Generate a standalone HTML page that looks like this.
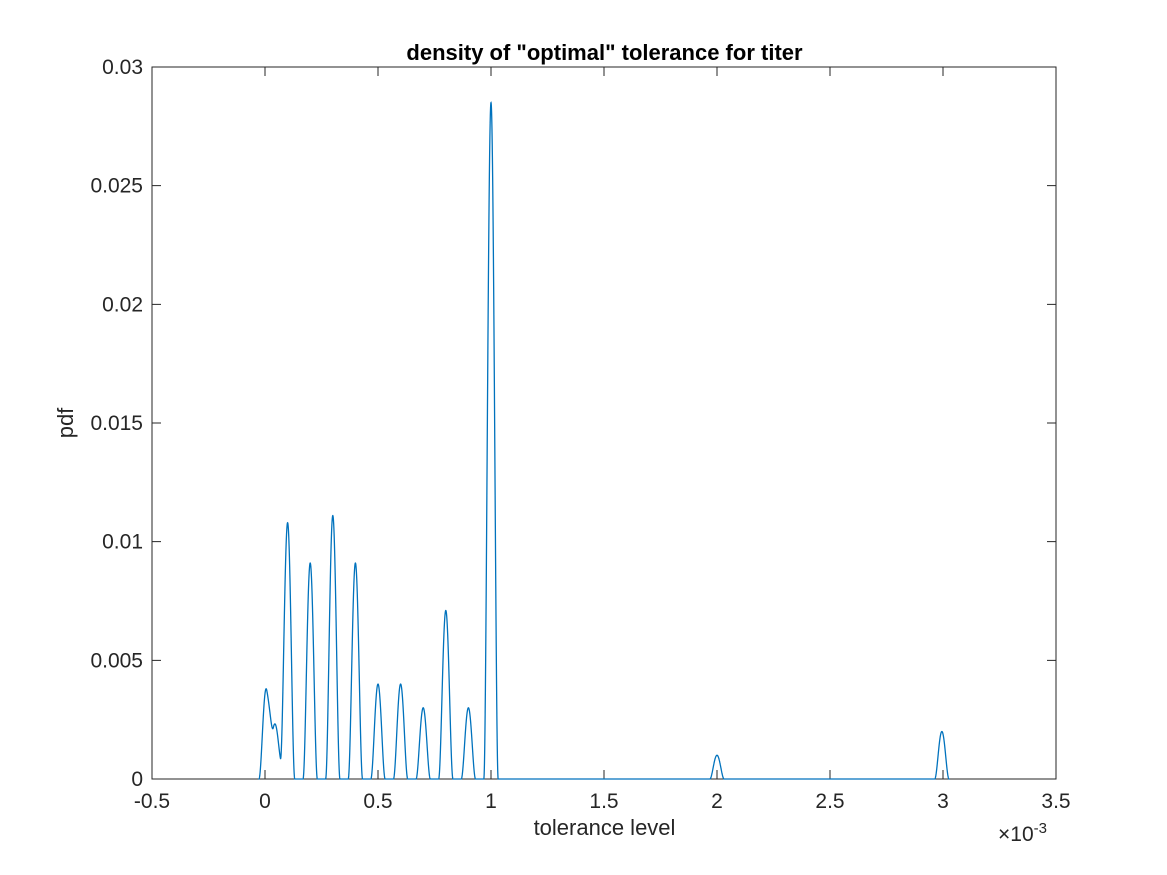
<!DOCTYPE html>
<html><head><meta charset="utf-8"><style>
body{margin:0;background:#fff}
svg{display:block;font-family:"Liberation Sans",Arial,sans-serif}
</style></head><body>
<svg id="chart" width="1167" height="875" viewBox="0 0 1167 875">
<rect x="0" y="0" width="1167" height="875" fill="#fff"/>
<g id="axes"></g>
<g id="series"></g>
</svg>
<script>
const xTicks=[-0.5,0,0.5,1,1.5,2,2.5,3,3.5];
const xTickLabels=["-0.5","0","0.5","1","1.5","2","2.5","3","3.5"];
const yTicks=[0,0.005,0.01,0.015,0.02,0.025,0.03];
const yTickLabels=["0","0.005","0.01","0.015","0.02","0.025","0.03"];
const peakPositions=[0.005,0.04,0.066,0.1,0.2,0.3,0.4,0.5,0.6,0.7,0.8,0.9,1.0,2.0,2.995];
const peakHeights=[0.0038,0.0022,0.0008,0.0108,0.0091,0.0111,0.0091,0.0040,0.0040,0.0030,0.0071,0.0030,0.0285,0.0010,0.0020];
const curveStart=-0.03, curveEnd=3.03, bandwidth=0.032;

const L=152,T=67,R=1056,B=779;
const xs=v=>L+(v+0.5)/4*(R-L);
const ys=v=>B-v/0.03*(B-T);
const NS="http://www.w3.org/2000/svg";
function mk(tag,attrs,parent){const e=document.createElementNS(NS,tag);for(const k in attrs)e.setAttribute(k,attrs[k]);parent.appendChild(e);return e;}
const ax=document.getElementById('axes');
const box=mk('rect',{x:L,y:T,width:R-L,height:B-T,fill:'none',stroke:'#262626','stroke-width':1},ax);


xTicks.forEach((t,i)=>{
  const x=xs(t);
  const tk=mk('path',{d:`M${x},${B}V${B-9}M${x},${T}V${T+9}`,stroke:'#262626','stroke-width':1},ax);
  
  
  const lb=mk('text',{x:x,y:B+29,'text-anchor':'middle','font-size':21,fill:'#262626'},ax);
  lb.textContent=xTickLabels[i];
  
  
});
yTicks.forEach((t,i)=>{
  const y=ys(t);
  const tk=mk('path',{d:`M${L},${y}H${L+9}M${R},${y}H${R-9}`,stroke:'#262626','stroke-width':1},ax);
  
  
  const lb=mk('text',{x:L-9,y:y+7,'text-anchor':'end','font-size':21,fill:'#262626'},ax);
  lb.textContent=yTickLabels[i];
  
  
});
let d="";
const N=8000;
for(let i=0;i<=N;i++){
  const x=curveStart+(curveEnd-curveStart)*i/N;
  let y=0;
  for(let j=0;j<peakPositions.length;j++){
    const u=(x-peakPositions[j])/bandwidth;
    if(Math.abs(u)<1)y+=peakHeights[j]*Math.pow(1-u*u,2.2);
  }
  d+=(i?"L":"M")+xs(x).toFixed(2)+","+ys(y).toFixed(2);
}
const line=mk('path',{d:d,fill:'none',stroke:'#0072bd','stroke-width':1.3},document.getElementById('series'));


</script>
<div style="position:absolute;left:0;top:0;width:1167px;height:875px;pointer-events:none;font-family:'Liberation Sans',Arial,sans-serif;color:#262626">
<div style="position:absolute;left:0;width:1209px;top:40px;text-align:center;font-weight:bold;font-size:22px;color:#000">density of "optimal" tolerance for titer</div>
<div style="position:absolute;left:0;width:1209px;top:815px;text-align:center;font-size:22px">tolerance level</div>
<div style="position:absolute;left:66px;top:423px;font-size:22px;transform:translate(-50%,-50%) rotate(-90deg);transform-origin:center">pdf</div>
<div style="position:absolute;left:998px;top:820px;font-size:21px">×10<sup style="font-size:15px">-3</sup></div>
</div>
</body></html>
